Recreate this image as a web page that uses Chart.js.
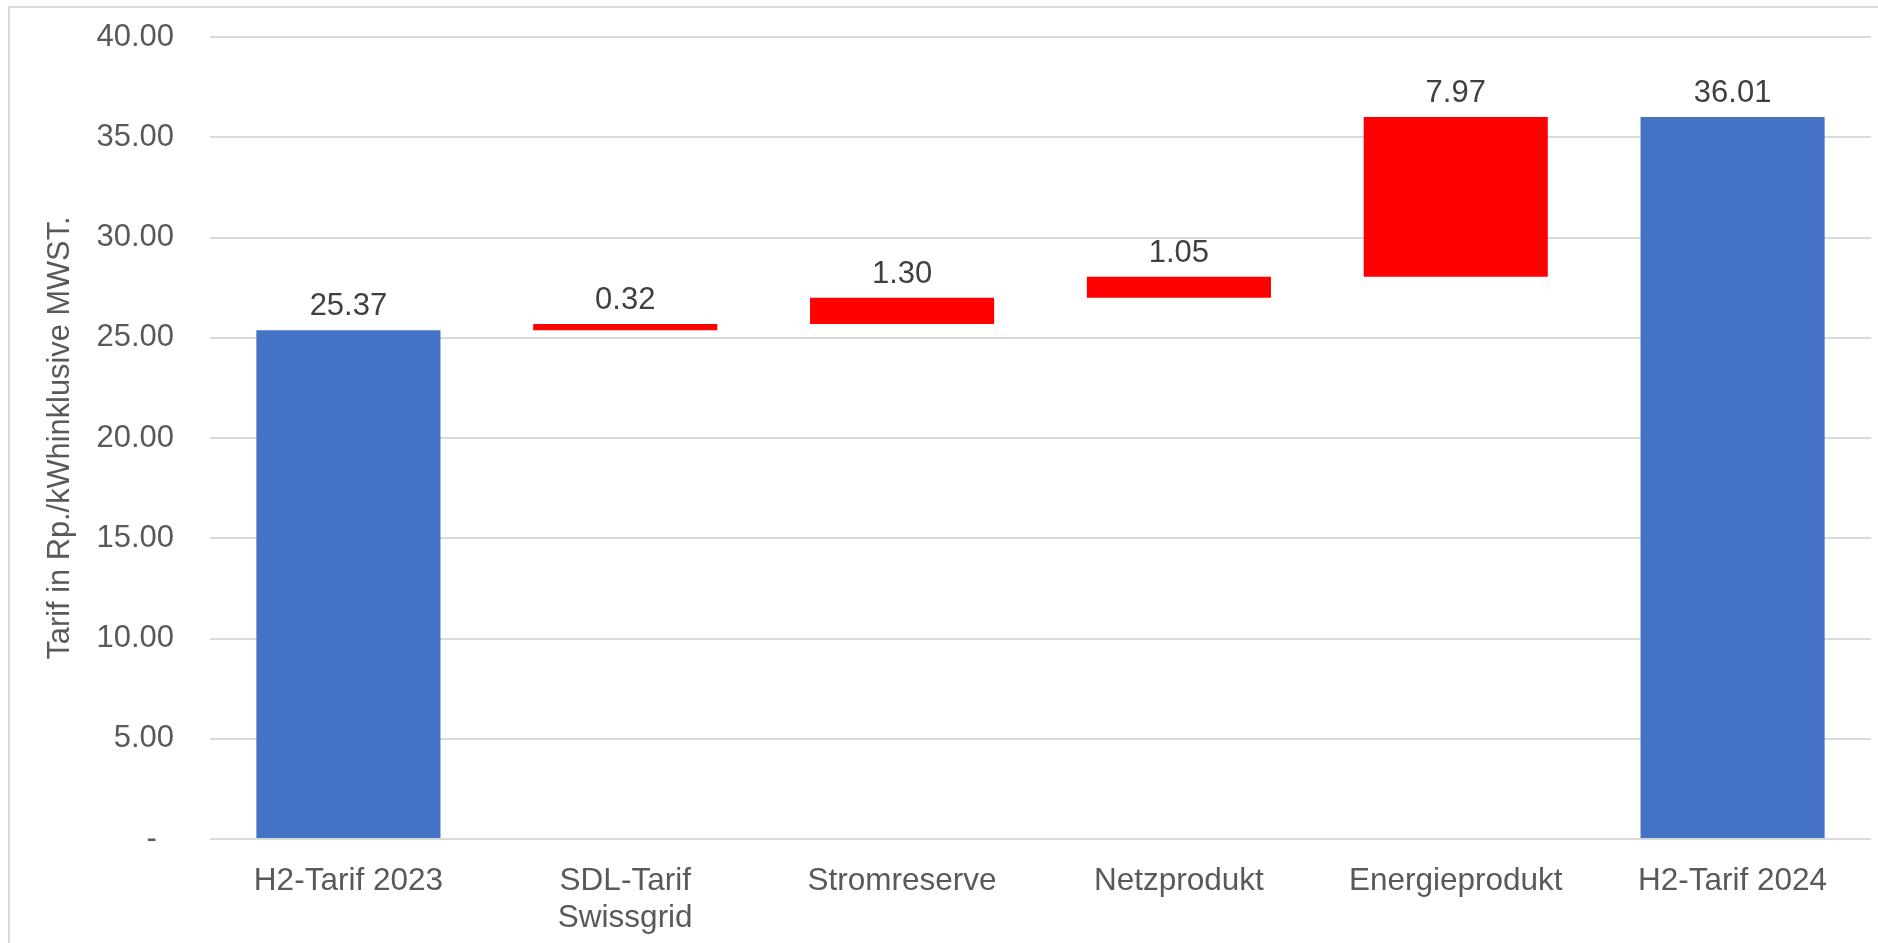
<!DOCTYPE html>
<html>
<head>
<meta charset="utf-8">
<script src="https://cdn.jsdelivr.net/npm/chart.js@4/dist/chart.umd.min.js"></script>
<style>
html,body{margin:0;padding:0;background:#fff;overflow:hidden}
#wrap{position:absolute;left:0;top:0;width:1878px;height:943px;overflow:hidden}
#frame{position:absolute;left:8px;top:6px;width:1890px;height:960px;border:2px solid #d9d9d9;box-sizing:border-box}
canvas{position:absolute;left:0;top:0}
</style>
</head>
<body>
<div id="wrap"><div id="frame"></div><canvas id="c" width="1878" height="943"></canvas></div>
<script>
// ---- data ----
const categories = [["H2-Tarif 2023"], ["SDL-Tarif", "Swissgrid"], ["Stromreserve"], ["Netzprodukt"], ["Energieprodukt"], ["H2-Tarif 2024"]];
const startTotal = 25.37;
const changes = [0.32, 1.30, 1.05, 7.97];
const endTotal = 36.01;
const yTickValues = [0, 5, 10, 15, 20, 25, 30, 35, 40];
const yTitle = "Tarif in Rp./kWhinklusive MWST.";

const totalColor = "#4472C4";
const changeColor = "#FF0000";

// build floating ranges for the waterfall
const ranges = [[0, startTotal]];
const colors = [totalColor];
let running = startTotal;
changes.forEach(c => {
  ranges.push([running, running + c]);
  colors.push(changeColor);
  running += c;
});
ranges.push([0, endTotal]);
colors.push(totalColor);
const valueLabels = [startTotal, ...changes, endTotal].map(v => v.toFixed(2));

Chart.defaults.font.family = '"Liberation Sans", Arial, sans-serif';

const labelPlugin = {
  id: 'valueLabels',
  afterDatasetsDraw(chart) {
    const ctx = chart.ctx;
    const meta = chart.getDatasetMeta(0);
    ctx.save();
    ctx.font = '31px "Liberation Sans", Arial, sans-serif';
    ctx.fillStyle = '#404040';
    ctx.textAlign = 'center';
    ctx.textBaseline = 'alphabetic';
    meta.data.forEach((bar, i) => {
      const top = Math.min(bar.y, bar.base);
      ctx.fillText(valueLabels[i], bar.x, top - 15);
    });
    ctx.restore();
  }
};

new Chart(document.getElementById('c'), {
  type: 'bar',
  data: {
    labels: categories,
    datasets: [{
      data: ranges,
      backgroundColor: colors,
      borderWidth: 0,
      barPercentage: 0.665,
      categoryPercentage: 1.0
    }]
  },
  options: {
    responsive: false,
    animation: false,
    devicePixelRatio: 1,
    layout: { padding: { top: 37, left: 0, right: 7, bottom: 0 } },
    plugins: { legend: { display: false }, tooltip: { enabled: false } },
    scales: {
      x: {
        grid: { display: false },
        border: { display: false },
        ticks: {
          color: '#595959',
          font: { size: 31.5, lineHeight: 1.17 },
          padding: 16,
          maxRotation: 0,
          autoSkip: false
        },
        afterFit(scale) { scale.height = 104; }
      },
      y: {
        min: 0,
        max: 40,
        afterBuildTicks(scale) { scale.ticks = yTickValues.map(v => ({ value: v })); },
        ticks: {
          color: '#595959',
          font: { size: 31 },
          padding: 0,
          callback: v => (v === 0 ? '-  ' : Number(v).toFixed(2))
        },
        grid: { color: '#d9d9d9', lineWidth: 2, drawTicks: true, tickLength: 36, tickColor: 'rgba(0,0,0,0)' },
        border: { display: false },
        title: {
          display: true,
          text: yTitle,
          color: '#595959',
          font: { size: 30.8 },
          padding: { top: 42, bottom: 0 }
        },
        afterFit(scale) { scale.width = 210; }
      }
    }
  },
  plugins: [labelPlugin]
});
</script>
</body>
</html>
